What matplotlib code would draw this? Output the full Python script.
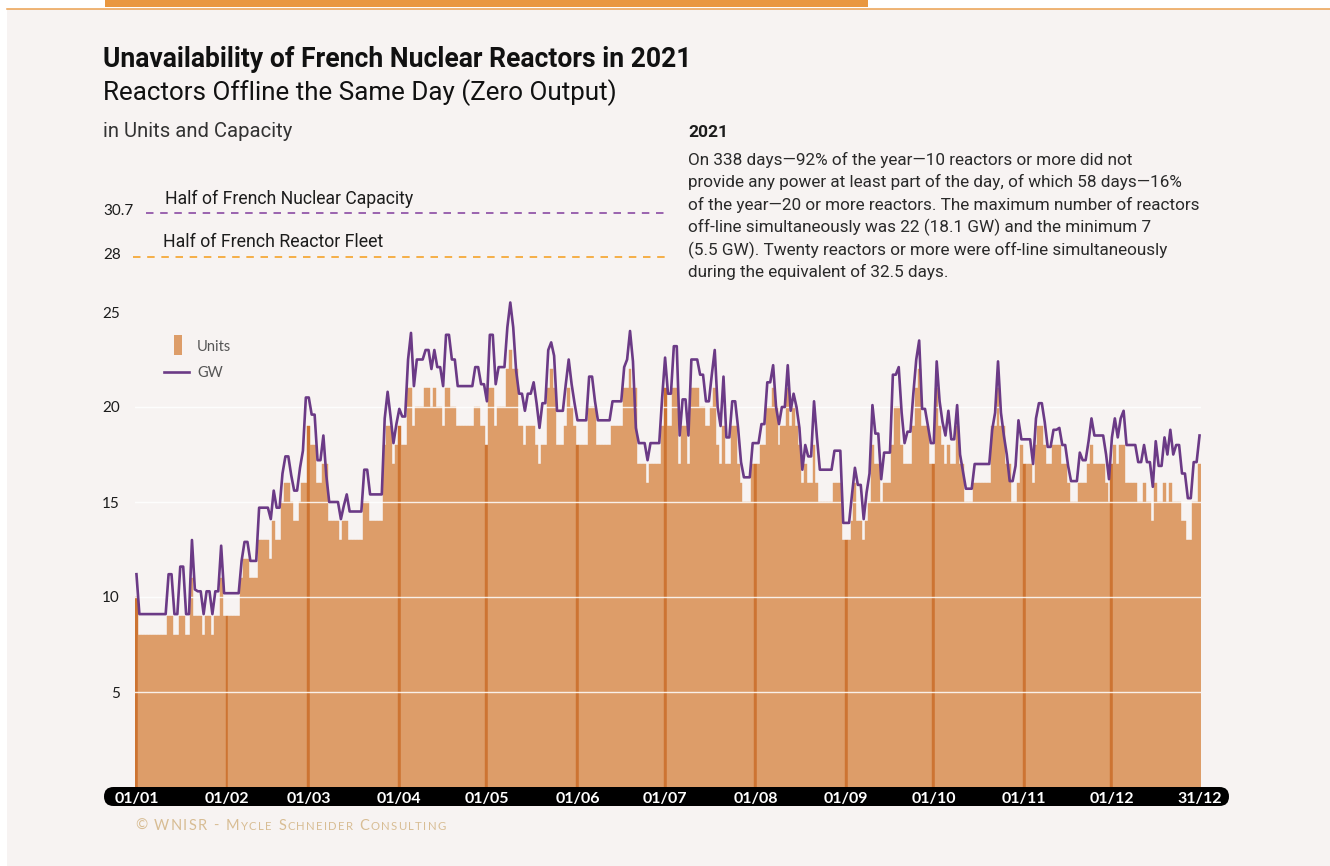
import numpy as np
import matplotlib
matplotlib.use("Agg")
import matplotlib.pyplot as plt
from matplotlib.patches import Rectangle, FancyBboxPatch
from matplotlib.lines import Line2D
from matplotlib.transforms import IdentityTransform

# reactors offline (units), one value per day of 2021
units_jan = [10, 8, 8, 8, 8, 8, 8, 8, 8, 8, 8, 9, 9, 8, 8, 9, 9, 8, 8, 11, 9, 9, 9, 8, 9, 9, 8, 9, 9, 11, 9]
units_feb = [9, 9, 9, 9, 9, 11, 12, 12, 11, 11, 11, 13, 13, 13, 13, 12, 14, 13, 13, 15, 16, 16, 15, 14, 14, 15, 16, 16]
units_mar = [19, 18, 18, 16, 16, 17, 17, 14, 14, 14, 14, 13, 14, 14, 13, 13, 13, 13, 13, 15, 15, 14, 14, 14, 14, 14, 18, 19, 19, 17, 18]
units_apr = [19, 18, 18, 21, 21, 19, 20, 20, 20, 21, 21, 20, 21, 20, 20, 19, 21, 21, 20, 20, 19, 19, 19, 19, 19, 19, 20, 20, 19, 19]
units_may = [18, 21, 21, 19, 20, 20, 20, 22, 23, 22, 22, 19, 19, 18, 19, 19, 19, 18, 17, 18, 18, 21, 22, 21, 18, 18, 18, 19, 21, 20, 19]
units_jun = [18, 18, 18, 18, 20, 20, 20, 18, 18, 18, 18, 18, 19, 19, 19, 19, 21, 21, 22, 21, 21, 17, 17, 17, 16, 17, 17, 17, 17, 19]
units_jul = [21, 19, 19, 21, 21, 17, 19, 19, 17, 21, 21, 21, 20, 20, 19, 19, 20, 21, 18, 17, 19, 17, 17, 19, 19, 17, 16, 15, 15, 15, 17]
units_aug = [17, 17, 18, 18, 20, 20, 21, 20, 18, 19, 19, 21, 19, 20, 19, 18, 16, 17, 16, 16, 18, 16, 15, 15, 15, 15, 15, 16, 16, 16, 13]
units_sep = [13, 13, 14, 16, 14, 14, 13, 14, 15, 18, 17, 17, 15, 16, 16, 16, 18, 20, 20, 18, 17, 17, 17, 19, 21, 22, 19, 19, 19, 17]
units_oct = [17, 21, 19, 18, 17, 18, 17, 17, 19, 17, 17, 15, 15, 15, 16, 16, 16, 16, 16, 16, 19, 19, 21, 19, 19, 17, 17, 15, 15, 16, 18]
units_nov = [17, 17, 17, 16, 18, 19, 19, 18, 17, 17, 18, 18, 18, 17, 17, 16, 15, 15, 15, 16, 16, 16, 17, 18, 17, 17, 17, 17, 16, 15]
units_dec = [17, 18, 17, 18, 18, 16, 16, 16, 16, 15, 15, 16, 15, 15, 14, 16, 15, 15, 16, 15, 16, 15, 15, 15, 14, 14, 13, 13, 15, 15, 17]

# capacity offline (GW), one value per day
gw_jan = [11.2, 9.1, 9.1, 9.1, 9.1, 9.1, 9.1, 9.1, 9.1, 9.1, 9.1, 11.2, 11.2, 9.1, 9.1, 11.6, 11.6, 9.1, 9.1, 13.0, 10.4, 10.3, 10.3, 9.1, 10.3, 10.3, 9.1, 10.3, 10.3, 12.7, 10.2]
gw_feb = [10.2, 10.2, 10.2, 10.2, 10.2, 11.9, 12.9, 12.9, 11.9, 11.9, 11.9, 14.7, 14.7, 14.7, 14.7, 14.1, 15.6, 14.7, 14.7, 16.5, 17.4, 17.4, 16.4, 15.6, 15.6, 16.8, 17.7, 20.5]
gw_mar = [20.5, 19.6, 19.6, 17.2, 17.2, 18.5, 16.4, 15.0, 15.0, 15.0, 15.0, 14.1, 14.8, 15.4, 14.5, 14.5, 14.5, 14.5, 14.5, 16.7, 16.7, 15.4, 15.4, 15.4, 15.4, 15.4, 19.4, 20.8, 19.5, 18.1, 19.1]
gw_apr = [19.9, 19.5, 19.5, 22.5, 23.9, 21.1, 22.5, 22.5, 22.5, 23.0, 23.0, 22.0, 23.0, 22.1, 22.1, 21.1, 23.8, 23.8, 22.5, 22.5, 21.1, 21.1, 21.1, 21.1, 21.1, 21.1, 22.1, 22.1, 21.2, 21.2]
gw_may = [20.3, 23.8, 23.8, 21.2, 22.1, 22.1, 22.1, 24.2, 25.5, 24.2, 21.9, 20.7, 20.7, 19.8, 20.7, 20.7, 21.3, 20.2, 18.9, 20.2, 20.2, 23.0, 23.4, 22.7, 19.8, 19.8, 19.8, 21.2, 22.5, 21.2, 20.2]
gw_jun = [19.3, 19.3, 19.3, 19.3, 21.6, 21.6, 20.3, 19.3, 19.3, 19.3, 19.3, 19.3, 20.3, 20.3, 20.3, 20.3, 22.1, 22.5, 24.0, 22.4, 18.9, 18.1, 18.1, 18.1, 17.2, 18.1, 18.1, 18.1, 18.1, 20.5]
gw_jul = [22.6, 20.7, 20.7, 23.2, 23.2, 18.5, 20.4, 20.4, 18.5, 22.5, 22.5, 22.5, 21.7, 21.7, 20.3, 20.3, 21.7, 23.0, 20.0, 19.0, 21.6, 18.4, 18.4, 20.3, 20.3, 18.9, 17.1, 16.3, 16.3, 16.3, 18.1]
gw_aug = [18.1, 18.1, 19.1, 19.1, 21.3, 21.3, 22.2, 20.0, 19.1, 20.0, 20.0, 22.2, 19.8, 20.7, 20.0, 18.9, 16.7, 18.0, 17.4, 17.4, 20.3, 18.4, 16.7, 16.7, 16.7, 16.7, 16.7, 17.7, 17.7, 17.7, 13.9]
gw_sep = [13.9, 13.9, 15.4, 16.8, 15.9, 15.9, 14.1, 15.5, 16.5, 20.1, 18.6, 18.6, 16.2, 17.6, 17.6, 17.6, 21.7, 21.7, 22.1, 19.7, 18.1, 18.7, 18.7, 20.7, 22.5, 23.5, 19.9, 19.9, 19.0, 18.1]
gw_oct = [18.1, 22.4, 20.3, 19.2, 18.5, 19.8, 18.3, 18.3, 20.1, 17.5, 16.6, 15.7, 15.7, 15.7, 17.0, 17.0, 17.0, 17.0, 17.0, 17.0, 18.8, 19.7, 22.4, 19.7, 18.5, 17.5, 16.1, 16.1, 16.9, 19.3, 18.3]
gw_nov = [18.3, 18.3, 18.3, 17.0, 19.4, 20.2, 20.2, 19.2, 17.9, 17.9, 18.8, 18.8, 18.9, 18.0, 18.0, 16.9, 16.1, 16.1, 16.1, 17.6, 17.2, 17.2, 18.2, 19.4, 18.5, 18.5, 18.5, 18.5, 17.5, 16.2]
gw_dec = [18.4, 19.4, 18.4, 19.4, 19.8, 18.0, 18.0, 18.0, 18.0, 17.1, 17.1, 18.0, 17.1, 17.1, 15.8, 18.2, 16.9, 16.9, 18.4, 17.5, 18.8, 17.5, 18.0, 18.0, 16.5, 16.5, 15.2, 15.2, 17.1, 17.1, 18.5]

month_labels = ["01/01", "01/02", "01/03", "01/04", "01/05", "01/06",
                "01/07", "01/08", "01/09", "01/10", "01/11", "01/12"]
end_label = "31/12"
y_ticks = [5, 10, 15, 20, 25]
ref_capacity = ("30.7", "Half of French Nuclear Capacity")
ref_fleet = ("28", "Half of French Reactor Fleet")

units_months = [units_jan, units_feb, units_mar, units_apr, units_may, units_jun,
                units_jul, units_aug, units_sep, units_oct, units_nov, units_dec]
gw_months = [gw_jan, gw_feb, gw_mar, gw_apr, gw_may, gw_jun,
             gw_jul, gw_aug, gw_sep, gw_oct, gw_nov, gw_dec]
units = np.concatenate(units_months)
gw = np.concatenate(gw_months)
days = np.arange(len(units))
month_starts = np.cumsum([0] + [len(m) for m in units_months[:-1]])

BG = "#f7f3f2"
BAR = "#dd9d69"
BAR_DARK = "#cd7432"
PURPLE = "#6b3a86"
PURPLE_DASH = "#8a4aa3"
ORANGE_DASH = "#f5a32a"
TXT = "#1c1c1c"

W, H = 1330, 866
fig = plt.figure(figsize=(W / 100, H / 100), dpi=100, facecolor="white")


def fx(x):
    return x / W


def fy(y):
    return 1 - y / H


def fit(t, width):
    r = fig.canvas.get_renderer()
    w = t.get_window_extent(renderer=r).width
    t.set_fontsize(t.get_fontsize() * width / w)
    return t


# panel background and top banner
fig.add_artist(Rectangle((fx(7), 0), 1 - fx(7), fy(9), transform=fig.transFigure,
                         facecolor=BG, edgecolor="none", zorder=-5))
fig.add_artist(Rectangle((fx(105), fy(7)), fx(868 - 105), 7 / H, transform=fig.transFigure,
                         facecolor="#e9973f", edgecolor="none", zorder=-4))
fig.add_artist(Line2D([fx(7), 1], [fy(8.5)] * 2, transform=fig.transFigure,
                      color="#eba050", lw=1.1, zorder=-4))

# black date band behind the x labels
fig.add_artist(FancyBboxPatch((104, H - 806), 1125, 19,
                              boxstyle="round,pad=0,rounding_size=9.5",
                              transform=IdentityTransform(),
                              facecolor="black", edgecolor="none", zorder=-1))

px_per_unit = 19
ax = fig.add_axes([fx(135), fy(787), fx(1066), 26 * px_per_unit / H])
ax.set_facecolor("none")
ax.set_xlim(0, 365)
ax.set_ylim(0, 26)
for s in ax.spines.values():
    s.set_visible(False)

colors = [BAR_DARK if d in month_starts else BAR for d in days]
ax.bar(days, units, width=1.0, align="edge", color=colors, edgecolor=colors,
       linewidth=0.3, zorder=2)
for v in y_ticks[:-1]:
    ax.axhline(v, xmin=0, xmax=1, color="white", lw=1.0, alpha=0.85, zorder=3)
ax.plot(days + 0.5, gw, color=PURPLE, lw=1.9, zorder=4, solid_joinstyle="round")

ax.set_yticks(y_ticks)
ax.set_yticklabels([str(v) for v in y_ticks])
ax.tick_params(axis="y", length=0, pad=10.8, labelsize=11, labelcolor=TXT)
for lab in ax.get_yticklabels():
    lab.set_fontfamily("Lato")

ax.set_xticks(list(month_starts + 0.5) + [364.5])
ax.set_xticklabels(month_labels + [end_label])
ax.tick_params(axis="x", length=0, pad=3.5, labelsize=11.5, labelcolor="white")
for lab in ax.get_xticklabels():
    lab.set_fontfamily("Lato")
    lab.set_fontweight("bold")

# legend
fig.add_artist(Rectangle((fx(174), fy(355)), fx(8), 20 / H, transform=fig.transFigure,
                         facecolor=BAR, edgecolor="none"))
fig.add_artist(Line2D([fx(164), fx(189)], [fy(372)] * 2, transform=fig.transFigure,
                      color=PURPLE, lw=1.9))
fig.text(fx(197), fy(351), "Units", fontsize=10.5, family="Lato", color="#555555")
fig.text(fx(197), fy(377), "GW", fontsize=10.5, family="Lato", color="#555555")

# reference levels above the axis break
fig.add_artist(Line2D([fx(146), fx(667)], [fy(213)] * 2, transform=fig.transFigure,
                      color=PURPLE_DASH, lw=1.2, linestyle=(0, (4.5, 4))))
fig.add_artist(Line2D([fx(133), fx(667)], [fy(257)] * 2, transform=fig.transFigure,
                      color=ORANGE_DASH, lw=1.2, linestyle=(0, (4.5, 4))))
fig.text(fx(103), fy(215), ref_capacity[0], fontsize=11, family="Lato", color=TXT)
fig.text(fx(103), fy(259), ref_fleet[0], fontsize=11, family="Lato", color=TXT)
fit(fig.text(fx(165), fy(204), ref_capacity[1], fontsize=12, family="Roboto", color=TXT), 249)
fit(fig.text(fx(163), fy(247), ref_fleet[1], fontsize=12, family="Roboto", color=TXT), 221)

# titles
fit(fig.text(fx(103), fy(67), "Unavailability of French Nuclear Reactors in 2021",
             fontsize=18, family="Roboto", fontweight="bold", color="#111111"), 590)
fit(fig.text(fx(103), fy(100), "Reactors Offline the Same Day (Zero Output)",
             fontsize=18, family="Roboto", color="#111111"), 513)
fit(fig.text(fx(103), fy(137), "in Units and Capacity",
             fontsize=13, family="Roboto", color="#333333"), 190)

# note on the right
fig.text(fx(688), fy(137), "2021", fontsize=12.5, family="Roboto", fontweight="bold", color=TXT)
note = [
    "On 338 days\u201492% of the year\u201410 reactors or more did not",
    "provide any power at least part of the day, of which 58 days\u201416%",
    "of the year\u201420 or more reactors. The maximum number of reactors",
    "off-line simultaneously was 22 (18.1 GW) and the minimum 7",
    "(5.5 GW). Twenty reactors or more were off-line simultaneously",
    "during the equivalent of 32.5 days.",
]
probe = fit(fig.text(fx(688), fy(209.5), note[2], fontsize=12, family="Roboto", color="#2a2a2a"), 514)
size = probe.get_fontsize()
probe.remove()
for i, line in enumerate(note):
    fig.text(fx(688), fy(164.5 + i * 22.6), line, fontsize=size, family="Roboto", color="#2a2a2a")

# footer in small caps, letter-spaced
r = fig.canvas.get_renderer()
x = 135
for piece, big in [("\u00a9 WNISR - M", True), ("YCLE ", False), ("S", True),
                   ("CHNEIDER ", False), ("C", True), ("ONSULTING", False)]:
    for ch in piece:
        if ch == " ":
            x += 5.5
            continue
        t = fig.text(fx(x), fy(829.5), ch, fontsize=10.5 if big else 8.2, family="Lato",
                     color="#d8bd94")
        x += t.get_window_extent(renderer=r).width + 1.3

fig.savefig("out.png", dpi=100, facecolor="white")
